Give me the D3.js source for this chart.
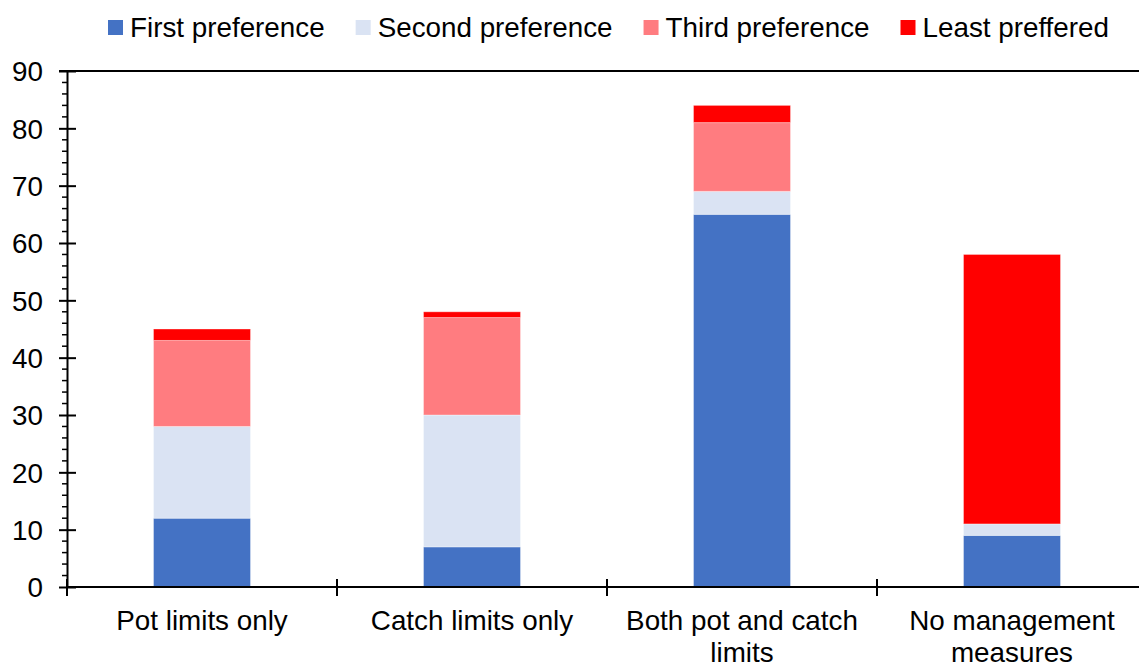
<!DOCTYPE html>
<html>
<head>
<meta charset="utf-8">
<title>Management preference</title>
<script src="https://d3js.org/d3.v7.min.js"></script>
<style>
  body { margin: 0; background: #fff; }
  text { font-family: "Liberation Sans", Arial, sans-serif; fill: #000; }
</style>
</head>
<body>
<script>
var categories = ["Pot limits only", "Catch limits only", "Both pot and catch limits", "No management measures"];
var seriesNames = ["First preference", "Second preference", "Third preference", "Least preffered"];
var firstPref = [12, 7, 65, 9];
var secondPref = [16, 23, 4, 2];
var thirdPref = [15, 17, 12, 0];
var leastPref = [2, 1, 3, 47];
var yTicks = [0, 10, 20, 30, 40, 50, 60, 70, 80, 90];
var colors = ["#4472C4", "#DAE3F3", "#FF7C80", "#FF0000"];

var width = 1139, height = 664;
var plotLeft = 67, plotTop = 71, plotBottom = 587, catWidth = 270;
var fontSize = 27.8;

var svg = d3.select("body").append("svg")
    .attr("width", width)
    .attr("height", height);

var rows = categories.map(function(c, i) {
    return {cat: c, s0: firstPref[i], s1: secondPref[i], s2: thirdPref[i], s3: leastPref[i]};
});
var stack = d3.stack().keys(["s0", "s1", "s2", "s3"]);
var layers = stack(rows);

var x = d3.scaleBand()
    .domain(categories)
    .range([plotLeft, plotLeft + catWidth * categories.length])
    .paddingInner(0)
    .paddingOuter(0);

var y = d3.scaleLinear().domain([0, 90]).range([plotBottom, plotTop]);

var barWidth = 97;

// bars
svg.selectAll("g.layer")
    .data(layers)
    .enter().append("g")
    .attr("class", "layer")
    .attr("fill", function(d, i) { return colors[i]; })
  .selectAll("rect")
    .data(function(d) { return d; })
    .enter().append("rect")
    .attr("x", function(d) { return x(d.data.cat) + x.bandwidth() / 2 - barWidth / 2; })
    .attr("width", barWidth)
    .attr("y", function(d) { return y(d[1]); })
    .attr("height", function(d) { return y(d[0]) - y(d[1]); })
    .attr("stroke", "rgba(255,255,255,0.35)")
    .attr("stroke-width", 1);

// top frame line
svg.append("line")
    .attr("x1", plotLeft - 8).attr("x2", width)
    .attr("y1", y(90)).attr("y2", y(90))
    .attr("stroke", "#000").attr("stroke-width", 2);

// minor y ticks
var minor = d3.range(0, 91, 2).filter(function(v) { return v % 10 !== 0; });
svg.selectAll("line.minor")
    .data(minor)
    .enter().append("line")
    .attr("class", "minor")
    .attr("x1", plotLeft - 5).attr("x2", plotLeft)
    .attr("y1", function(d) { return y(d); })
    .attr("y2", function(d) { return y(d); })
    .attr("stroke", "#000").attr("stroke-width", 1.5);

// y axis
var yAxis = svg.append("g")
    .attr("transform", "translate(" + plotLeft + ",0)")
    .call(d3.axisLeft(y).tickValues(yTicks).tickSize(0).tickPadding(24));
yAxis.select(".domain").attr("stroke", "#000").attr("stroke-width", 2);
yAxis.selectAll(".tick text")
    .style("font-size", fontSize + "px")
    .attr("dy", "0.35em");
yAxis.selectAll(".tick").append("line")
    .attr("x1", -8).attr("x2", 9)
    .attr("stroke", "#000").attr("stroke-width", 2);

// x axis
svg.append("line")
    .attr("x1", plotLeft).attr("x2", width)
    .attr("y1", plotBottom).attr("y2", plotBottom)
    .attr("stroke", "#000").attr("stroke-width", 2);

var boundaries = categories.map(function(c) { return x(c); }).concat([x.range()[1]]);
svg.selectAll("line.catTick")
    .data(boundaries)
    .enter().append("line")
    .attr("class", "catTick")
    .attr("x1", function(d) { return d; })
    .attr("x2", function(d) { return d; })
    .attr("y1", plotBottom - 8).attr("y2", plotBottom + 9)
    .attr("stroke", "#000").attr("stroke-width", 2);

// category labels with wrapping
var labels = svg.selectAll("text.cat")
    .data(categories)
    .enter().append("text")
    .attr("class", "cat")
    .attr("text-anchor", "middle")
    .style("font-size", fontSize + "px")
    .attr("x", function(d) { return x(d) + x.bandwidth() / 2; })
    .attr("y", 630);

labels.each(function(d) {
    var t = d3.select(this);
    var words = d.split(" ");
    var line = [];
    var cx = +t.attr("x");
    var tspan = t.append("tspan").attr("x", cx).attr("dy", 0);
    words.forEach(function(w) {
        line.push(w);
        tspan.text(line.join(" "));
        if (tspan.node().getComputedTextLength() > 255 && line.length > 1) {
            line.pop();
            tspan.text(line.join(" "));
            line = [w];
            tspan = t.append("tspan").attr("x", cx).attr("dy", "32").text(w);
        }
    });
});

// legend
var legend = svg.append("g").attr("class", "legend");
var lx = 108;
seriesNames.forEach(function(name, i) {
    var g = legend.append("g").attr("transform", "translate(" + lx + ",0)");
    g.append("rect")
        .attr("x", 0).attr("y", 20)
        .attr("width", 15).attr("height", 15)
        .attr("fill", colors[i]);
    var t = g.append("text")
        .attr("x", 22).attr("y", 37)
        .style("font-size", fontSize + "px")
        .text(name);
    lx += 22 + t.node().getComputedTextLength() + 31;
});
</script>
</body>
</html>
